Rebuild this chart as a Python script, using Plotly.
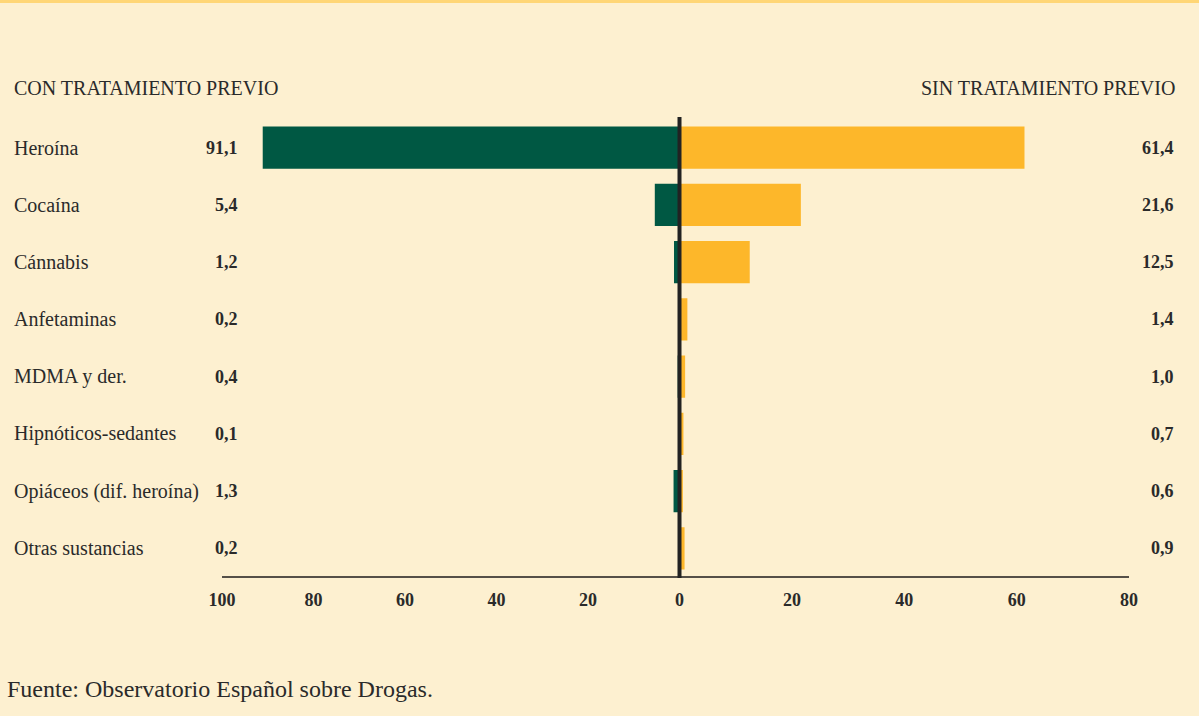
import plotly.graph_objects as go

categories = ["Heroína", "Cocaína", "Cánnabis", "Anfetaminas", "MDMA y der.",
              "Hipnóticos-sedantes", "Opiáceos (dif. heroína)", "Otras sustancias"]
con_tratamiento = [91.1, 5.4, 1.2, 0.2, 0.4, 0.1, 1.3, 0.2]
sin_tratamiento = [61.4, 21.6, 12.5, 1.4, 1.0, 0.7, 0.6, 0.9]
con_labels = ["91,1", "5,4", "1,2", "0,2", "0,4", "0,1", "1,3", "0,2"]
sin_labels = ["61,4", "21,6", "12,5", "1,4", "1,0", "0,7", "0,6", "0,9"]
left_ticks = [100, 80, 60, 40, 20, 0]
right_ticks = [20, 40, 60, 80]

W, H = 1199, 716
BG = "#FDF0D0"
GREEN = "#005843"
YELLOW = "#FDB72A"
TXT = "#2a2a2a"
FONT = "Liberation Serif"

T, B = 119, 139
PH = H - T - B

def px_x(x):
    return x / W

def px_y(y):
    return (H - B - y) / PH

xL0, xC, xR1 = 222, 679.5, 1129

fig = go.Figure()
fig.add_trace(go.Bar(y=categories, x=con_tratamiento, orientation="h",
                     marker=dict(color=GREEN, line=dict(width=0)),
                     xaxis="x", yaxis="y", width=0.74, showlegend=False,
                     hoverinfo="x+y"))
fig.add_trace(go.Bar(y=categories, x=sin_tratamiento, orientation="h",
                     marker=dict(color=YELLOW, line=dict(width=0)),
                     xaxis="x2", yaxis="y", width=0.74, showlegend=False,
                     hoverinfo="x+y"))

tickfont = dict(family=FONT, size=18, color=TXT, weight="bold")
fig.update_layout(
    width=W, height=H,
    paper_bgcolor=BG, plot_bgcolor=BG,
    margin=dict(l=0, r=0, t=T, b=B, autoexpand=False),
    bargap=0.26,
    xaxis=dict(domain=[px_x(xL0), px_x(xC)], range=[100, 0], tickvals=left_ticks,
               ticktext=[str(v) for v in left_ticks], showgrid=False, zeroline=False,
               showline=False, ticks="", tickfont=tickfont, anchor="y",
               ticklabelstandoff=10, fixedrange=True, automargin=False),
    xaxis2=dict(domain=[px_x(xC), px_x(xR1)], range=[0, 80], tickvals=right_ticks,
                ticktext=[str(v) for v in right_ticks], showgrid=False, zeroline=False,
                showline=False, ticks="", tickfont=tickfont, anchor="y",
                ticklabelstandoff=10, fixedrange=True, automargin=False),
    yaxis=dict(categoryorder="array", categoryarray=categories, autorange="reversed",
               showticklabels=False, showgrid=False, zeroline=False, showline=False,
               domain=[0, 1], fixedrange=True, automargin=False),
)

shapes = []
# top yellow rule
shapes.append(dict(type="rect", xref="paper", yref="paper", x0=0, x1=1,
                   y0=px_y(3), y1=px_y(0), fillcolor="#FFD676", line=dict(width=0),
                   layer="above"))
# bottom axis line
shapes.append(dict(type="line", xref="paper", yref="paper", x0=px_x(xL0), x1=px_x(xR1),
                   y0=px_y(577), y1=px_y(577), line=dict(color="#555048", width=2)))
# central line
shapes.append(dict(type="line", xref="paper", yref="paper", x0=px_x(xC), x1=px_x(xC),
                   y0=px_y(578), y1=px_y(117), line=dict(color="#222222", width=4)))
fig.update_layout(shapes=shapes)

ann = []
labfont = dict(family=FONT, size=20, color=TXT)
numfont = dict(family=FONT, size=18, color=TXT, weight="bold")
for c, cl, sl in zip(categories, con_labels, sin_labels):
    ann.append(dict(x=px_x(12), xref="paper", y=c, yref="y", text=c, showarrow=False,
                    xanchor="left", yanchor="middle", font=labfont))
    ann.append(dict(x=px_x(240), xref="paper", y=c, yref="y", text=cl, showarrow=False,
                    xanchor="right", yanchor="middle", font=numfont))
    ann.append(dict(x=px_x(1176), xref="paper", y=c, yref="y", text=sl, showarrow=False,
                    xanchor="right", yanchor="middle", font=numfont))
ann.append(dict(x=px_x(12), xref="paper", y=px_y(88), yref="paper",
                text="CON TRATAMIENTO PREVIO", showarrow=False, xanchor="left",
                yanchor="middle", font=labfont))
ann.append(dict(x=px_x(1177), xref="paper", y=px_y(88), yref="paper",
                text="SIN TRATAMIENTO PREVIO", showarrow=False, xanchor="right",
                yanchor="middle", font=labfont))
ann.append(dict(x=px_x(5), xref="paper", y=px_y(689), yref="paper",
                text="Fuente: Observatorio Español sobre Drogas.", showarrow=False,
                xanchor="left", yanchor="middle",
                font=dict(family=FONT, size=24, color=TXT)))
fig.update_layout(annotations=ann)

fig.write_html("out.html", config={"displayModeBar": False})
